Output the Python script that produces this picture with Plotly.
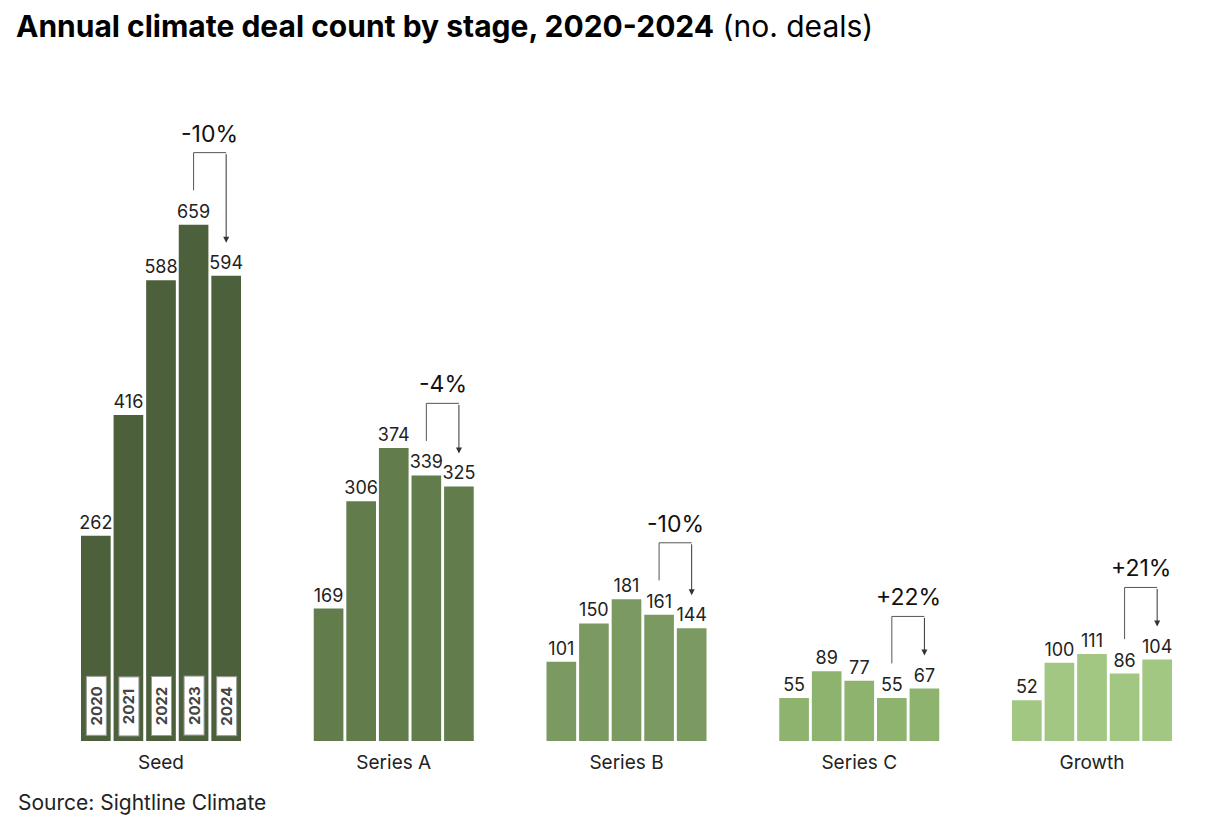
import plotly.graph_objects as go

stages = ["Seed", "Series A", "Series B", "Series C", "Growth"]
years = ["2020", "2021", "2022", "2023", "2024"]
deals = {
    "2020": [262, 169, 101, 55, 52],
    "2021": [416, 306, 150, 89, 100],
    "2022": [588, 374, 181, 77, 111],
    "2023": [659, 339, 161, 55, 86],
    "2024": [594, 325, 144, 67, 104],
}
stage_colors = ["#4b603b", "#627c4c", "#7a9a61", "#8db36f", "#a1c783"]
change_labels = ["-10%", "-4%", "-10%", "+22%", "+21%"]

FONT = "Inter, Roboto, sans-serif"
BARGAP = 0.30
W, H = 1206, 832
OFF = 8  # page body margin compensation
fig = go.Figure()
for y in years:
    fig.add_trace(go.Bar(
        x=list(range(len(stages))), y=deals[y], name=y,
        marker=dict(color=stage_colors, line=dict(width=0)),
        text=deals[y], textposition="outside", constraintext="none",
        textfont=dict(family=FONT, size=18, color="#222222"),
        cliponaxis=False, showlegend=False, hoverinfo="skip",
    ))

slot = (1 - BARGAP) / len(years)


def xpos(i, j):
    return i + (j - (len(years) - 1) / 2) * slot


# year labels inside Seed bars
for j, y in enumerate(years):
    fig.add_annotation(
        x=xpos(0, j), y=0, xref="x", yref="y", yanchor="bottom", yshift=5,
        text="<b>" + y + "</b>", textangle=-90, showarrow=False,
        font=dict(family=FONT, size=15, color="#444444"),
        bgcolor="white", bordercolor="#9a9a9a", borderwidth=1,
        width=58, height=19, borderpad=0,
    )

# change brackets 2023 -> 2024
for i, lab in enumerate(change_labels):
    v23 = deals["2023"][i]
    v24 = deals["2024"][i]
    top = max(v23, v24) + 92
    x3, x4 = xpos(i, 3), xpos(i, 4)
    fig.add_shape(type="path",
                  path=f"M {x3} {v23 + 44} L {x3} {top} L {x4} {top}",
                  xref="x", yref="y", line=dict(color="#555555", width=1))
    fig.add_annotation(x=x4, y=v24 + 42, ax=x4, ay=top, xref="x", yref="y",
                       axref="x", ayref="y", text="", showarrow=True,
                       arrowhead=2, arrowsize=1.2, arrowwidth=1, arrowcolor="#333333")
    fig.add_annotation(x=(x3 + x4) / 2, y=top, xref="x", yref="y",
                       yanchor="bottom", yshift=3, text=lab, showarrow=False,
                       font=dict(family=FONT, size=23, color="#111111"))

fig.add_annotation(x=(16 - OFF) / W, y=(741 - 802) / 691, xref="paper", yref="paper",
                   xanchor="left", yanchor="middle", text="Source: Sightline Climate",
                   showarrow=False, font=dict(family=FONT, size=21, color="#222222"))

px_per_unit = 232.75
x0 = 161 - OFF
fig.update_layout(
    width=W, height=H,
    barmode="group", bargap=BARGAP, bargroupgap=0.09,
    margin=dict(l=0, r=0, t=50 - OFF, b=H - (741 - OFF)),
    plot_bgcolor="white", paper_bgcolor="white",
    title=dict(text="<b>Annual climate deal count by stage, 2020-2024</b> (no. deals)",
               x=(16 - OFF) / W, xanchor="left", y=1 - 18 / H, yanchor="middle",
               font=dict(family=FONT, size=30, color="#000000")),
    xaxis=dict(tickmode="array", tickvals=list(range(len(stages))), ticktext=stages,
               range=[-x0 / px_per_unit, (W - x0) / px_per_unit],
               showgrid=False, zeroline=False, showline=False,
               ticks="outside", ticklen=4, tickcolor="white",
               tickfont=dict(family=FONT, size=19, color="#222222")),
    yaxis=dict(range=[0, 882], visible=False, showgrid=False, zeroline=False),
)

fig.write_html("out.html")
